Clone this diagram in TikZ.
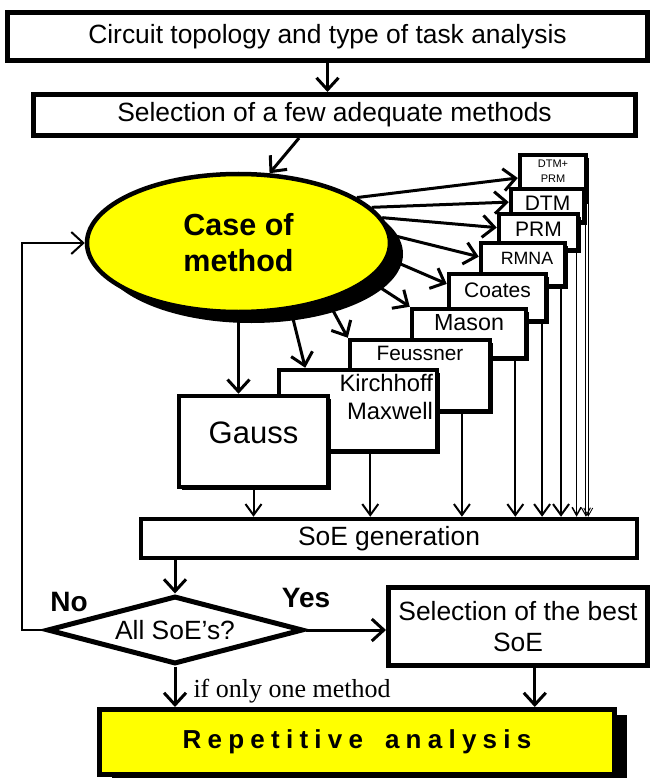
\documentclass[tikz,border=0pt]{standalone}
\usepackage{fontspec}
\setmainfont{Liberation Sans}
\newfontfamily\serifnote{Liberation Serif}
\newfontfamily\widebold[LetterSpace=24]{Liberation Sans}
\usetikzlibrary{arrows.meta,positioning,calc,shapes.geometric,shadows}
\definecolor{caseyel}{HTML}{FFFF00}
\newcommand{\lift}[2]{\raisebox{#1}[\height][\depth]{#2}}
\tikzset{
  box/.style={rectangle, draw, line width=5pt, fill=white, align=center, inner sep=0pt,
              font=\fontsize{26.4}{31}\selectfont},
  meth/.style={rectangle, draw, line width=4.5pt, fill=white, inner sep=0pt, align=center,
               drop shadow={shadow xshift=3pt, shadow yshift=-3pt, fill=black, opacity=1}},
  arr/.style={-{Straight Barb[length=12pt, width=22pt]}, line width=3pt},
  arrm/.style={-{Straight Barb[length=11pt, width=16pt]}, line width=2pt},
  arrt/.style={-{Straight Barb[length=8pt, width=9pt]}, line width=#1},
  yn/.style={font=\bfseries\fontsize{28}{30}\selectfont},
}

\begin{document}
\begin{tikzpicture}[x=1pt, y=-1pt]
    \useasboundingbox (0,0) rectangle (650,778);
    \node[box, minimum width=640pt, minimum height=48pt] (top) at (327.5,36.5)
      {Circuit topology and type of task analysis};
    \node[box, minimum width=602pt, minimum height=41pt] (sel) at (334.5,115)
      {Selection of a few adequate methods};
    \node[ellipse, draw, line width=4.5pt, fill=caseyel, minimum width=303pt, minimum height=138pt,
      inner sep=0pt, align=center, font=\bfseries\fontsize{30.5}{36}\selectfont,
      drop shadow={shadow xshift=13pt, shadow yshift=-11pt, fill=black, opacity=1}] (cm) at (238.5,243)
      {Case of\\method};
    % methods, back to front
    \node[meth, minimum width=66pt, minimum height=46pt, font=\fontsize{11}{15}\selectfont] (dp) at (553,178)
      {\lift{6.5pt}{\begin{tabular}{@{}c@{}}DTM+\\PRM\end{tabular}}};
    \node[meth, minimum width=73pt, minimum height=33pt, font=\fontsize{21}{24}\selectfont] (dtm) at (547.5,205.5)
      {\lift{2.5pt}{DTM}};
    \node[meth, minimum width=79pt, minimum height=36pt, font=\fontsize{21}{24}\selectfont] (prm) at (538.5,232)
      {\lift{3pt}{PRM}};
    \node[meth, minimum width=84pt, minimum height=43pt, font=\fontsize{17.8}{20}\selectfont] (rmna) at (523,264.5)
      {\lift{6.5pt}{\hspace{8pt}RMNA}};
    \node[meth, minimum width=97pt, minimum height=47pt, font=\fontsize{21}{24}\selectfont] (coa) at (497.5,297.5)
      {\lift{7.5pt}{Coates}};
    \node[meth, minimum width=114pt, minimum height=49pt, font=\fontsize{23.3}{27}\selectfont] (mas) at (469,333.5)
      {\lift{10.5pt}{Mason}};
    \node[meth, minimum width=140pt, minimum height=71pt, font=\fontsize{20.8}{24}\selectfont] (feu) at (420,375.5)
      {\lift{22.5pt}{Feussner}};
    \node[meth, minimum width=158pt, minimum height=81pt, text width=150pt, inner xsep=4pt, align=right,
      font=\fontsize{23.8}{28}\selectfont] (kir) at (358,410.5)
      {\lift{10.5pt}{\begin{tabular}{@{}r@{}}Kirchhoff\\Maxwell\end{tabular}}};
    \node[meth, minimum width=149pt, minimum height=91pt, font=\fontsize{31}{36}\selectfont] (gau) at (253.5,441.5)
      {\lift{8.5pt}{Gauss}};
    % lower part
    \node[box, line width=4.5pt, minimum width=496pt, minimum height=39pt] (soe) at (389,538.5) {SoE generation};
    \node[diamond, draw, line width=5pt, fill=white, aspect=3.7, minimum width=256pt, minimum height=68pt,
      inner sep=0pt, font=\fontsize{26.4}{31}\selectfont] (all) at (175,630) {All SoE’s?};
    \node[box, minimum width=259pt, minimum height=78pt] (best) at (518,626.5) {Selection of the best\\SoE};
    \node[rectangle, draw, line width=5pt, fill=caseyel, minimum width=515pt, minimum height=65pt,
      font=\widebold\bfseries\fontsize{26}{30}\selectfont,
      drop shadow={shadow xshift=12pt, shadow yshift=-5pt, fill=black, opacity=1}] (rep) at (357,742)
      {Repetitive\hspace{22pt}analysis};
    \node[yn] (no) at (69,602) {No};
    \node[yn] (yes) at (306,598) {Yes};

    \draw[arr] (top.south) -- (top.south |- sel.north);
    \draw[arr] (sel.-147) -- (cm.66);
    \draw[arr] (cm.21) -- (dp.west); \draw[arr] (cm.15) -- (dtm.175); \draw[arr] (cm.10) -- (prm.174);
    \draw[arr] (cm.3) -- (rmna.170); \draw[arr] (cm.-6) -- (coa.165); \draw[arr] (cm.-16) -- (mas.north west);
    \draw[arr] (cm.-33) -- (feu.north west); \draw[arr] (cm.-52) -- (kir.141);
    \draw[arr] (cm.south) -- (cm.south |- gau.north);
    % down into SoE generation
    \draw[arrm] (gau.south) -- (gau.south |- soe.north); \draw[arrm] (kir.-74) -- (kir.-74 |- soe.north);
    \draw[arrm] (feu.-42) -- (feu.-42 |- soe.north); \draw[arrm] (mas.-30) -- (mas.-30 |- soe.north);
    \draw[arrm] (coa.-30) -- (coa.-30 |- soe.north); \draw[arrm] (rmna.-32) -- (rmna.-32 |- soe.north);
    \draw[arrt=1.5pt] (prm.-28) -- (prm.-28 |- soe.north); \draw[arrt=1pt] (dtm.-26) -- (dtm.-26 |- soe.north);
    \draw[arrt=0.8pt] (dp.south east) -- (dp.south east |- soe.north);

    \draw[arr] (soe.south -| all.north) -- (all.north);
    \draw[arr] (all.east) -- (all.east -| best.west);
    \draw[arr] (all.south) -- (all.south |- rep.north)
      node[pos=0.6, right, inner sep=0pt, xshift=17pt, font=\serifnote\fontsize{26}{30}\selectfont] (one) {if only one method};
    \draw[arr] (best.-68) -- (best.-68 |- rep.north);
    \coordinate (lp) at (22,630);
    \draw[arr, line width=2pt] (all.west) -- (lp) |- (cm.west);
  \end{tikzpicture}
\end{document}
